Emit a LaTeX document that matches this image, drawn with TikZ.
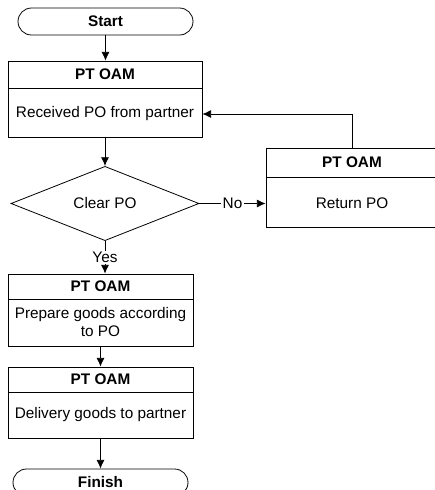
\documentclass[tikz,border=0pt]{standalone}
\usepackage{fontspec}
\setmainfont{Liberation Sans}
\usetikzlibrary{arrows.meta}
\usetikzlibrary{shapes.geometric}
\usetikzlibrary{shapes.misc}
\usetikzlibrary{positioning}
\tikzset{>={Latex[length=6.5pt,width=6pt]}}
\tikzset{
  every node/.style = {font=\fontsize{11.5}{13.5}\selectfont},
  term/.style = {draw, rounded rectangle, inner sep=0, minimum width=131.25pt, minimum height=20.25pt, font=\fontsize{11.5}{13.5}\selectfont\bfseries},
  box/.style = {draw, rectangle, inner sep=0},
  head/.style = {draw, rectangle, inner sep=0, anchor=north, font=\fontsize{11.5}{13.5}\selectfont\bfseries},
  txt/.style = {draw=none, align=center, inner sep=1},
  dec/.style = {draw, diamond, inner sep=0, minimum width=141pt, minimum height=54.75pt},
  lbl/.style = {draw=none, fill=white, inner sep=1}
}

\begin{document}
\begin{tikzpicture}[x=0.75pt, y=-0.75pt, line width=0.6pt]
\clip (0,0) rectangle (435,490);
% start / finish
\node [term] (start) at (105.5, 21.5) {Start};
\node [term] (finish) at (100.5, 482.5) {Finish};
% received PO
\node [box, minimum width=145.5pt, minimum height=57pt] (recv) at (105, 99) {};
\node [head, minimum width=145.5pt, minimum height=20.25pt] (recvhead) at (recv.north) {PT OAM};
\node [txt] (recvtxt) at (105, 114) {Received PO from partner};
% decision
\node [dec] (clear) at (105, 203.5) {Clear PO};
% return PO
\node [box, minimum width=129pt, minimum height=59.25pt] (ret) at (352, 187.5) {};
\node [head, minimum width=129pt, minimum height=21.75pt] (rethead) at (ret.north) {PT OAM};
\node [txt] (rettxt) at (352, 203.5) {Return PO};
% prepare goods
\node [box, minimum width=138.75pt, minimum height=54pt] (prep) at (100.5, 310) {};
\node [head, minimum width=138.75pt, minimum height=18.75pt] (prephead) at (prep.north) {PT OAM};
\node [txt] (preptxt) at (100.5, 322.5) {Prepare goods according\\to PO};
% delivery
\node [box, minimum width=138.75pt, minimum height=53.25pt] (deliv) at (100.5, 402.5) {};
\node [head, minimum width=138.75pt, minimum height=18.75pt] (delivhead) at (deliv.north) {PT OAM};
\node [txt] (delivtxt) at (100.5, 415) {Delivery goods to partner};
% arrows
\draw [->] (start.south) -- (start.south |- recv.north);
\draw [->] (recv.south) -- (clear.north);
\draw [->] (clear.east) -- node [lbl] {No} (clear.east -| ret.west);
\draw [->] (clear.south) -- node [lbl] {Yes} (clear.south |- prep.north);
\draw [->] (ret.north) |- (recvtxt -| recv.east);
\draw [->] (prep.south) -- (deliv.north);
\draw [->] (deliv.south) -- (finish.north);
\end{tikzpicture}
\end{document}
